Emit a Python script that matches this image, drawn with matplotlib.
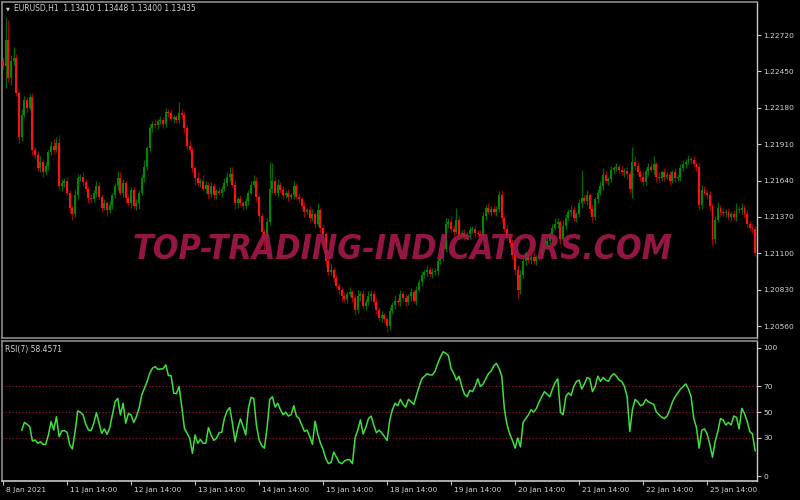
import numpy as np
import matplotlib
matplotlib.use("Agg")
import matplotlib.pyplot as plt
from matplotlib.transforms import ScaledTranslation

# EURUSD H1 candles, prices in pips above 1.2000; open of each bar = previous close
first_open_pips = 253
close_pips = [
    249, 268, 240, 253, 255, 229, 196, 213, 224, 218, 226, 187, 183, 173, 178, 170, 175, 185, 190, 187,
    192, 160, 162, 164, 155, 144, 139, 153, 166, 167, 163, 158, 151, 150, 155, 160, 152, 144, 147, 142,
    146, 153, 160, 166, 155, 162, 151, 147, 157, 145, 147, 155, 166, 174, 188, 203, 206, 205, 208, 209,
    206, 215, 214, 210, 211, 209, 214, 213, 203, 190, 187, 173, 166, 162, 164, 158, 161, 154, 160, 153,
    156, 155, 158, 162, 167, 169, 161, 147, 150, 147, 145, 149, 155, 161, 164, 152, 138, 126, 121, 133,
    158, 164, 155, 161, 157, 153, 155, 152, 153, 160, 152, 150, 145, 141, 142, 136, 139, 132, 142, 129,
    124, 104, 96, 98, 92, 86, 83, 78, 76, 80, 81, 77, 68, 78, 80, 71, 74, 78, 80, 74,
    68, 62, 64, 61, 56, 67, 72, 75, 74, 80, 77, 74, 78, 81, 75, 83, 89, 94, 96, 98,
    95, 96, 97, 104, 107, 113, 132, 133, 128, 126, 135, 123, 125, 123, 124, 127, 128, 125, 124, 123,
    138, 144, 141, 143, 141, 143, 153, 136, 128, 123, 118, 109, 98, 83, 94, 104, 110, 105, 107, 104,
    107, 109, 114, 116, 119, 124, 129, 132, 133, 121, 130, 136, 141, 142, 136, 139, 147, 151, 149, 153,
    143, 137, 150, 155, 160, 168, 164, 165, 172, 173, 174, 172, 170, 171, 169, 158, 178, 175, 170, 167,
    163, 171, 174, 172, 176, 167, 166, 170, 167, 168, 164, 170, 166, 167, 173, 176, 178, 180, 179, 176,
    174, 146, 157, 155, 153, 145, 121, 135, 144, 141, 140, 141, 137, 139, 137, 143, 142, 144, 139, 132,
    129, 128, 110,
]
up_wick = [
    3, 17, 15, 4, 8, 3, 2, 4, 3, 2, 2, 3, 2, 3, 4, 2, 3, 2, 3, 5,
    4, 6, 3, 2, 3, 2, 2, 5, 3, 2, 3, 2, 2, 3, 2, 4, 3, 2, 3, 2,
    3, 2, 2, 5, 4, 3, 2, 3, 2, 2, 3, 2, 3, 5, 2, 3, 2, 4, 2, 3,
    2, 3, 2, 3, 2, 2, 8, 3, 2, 2, 3, 2, 2, 4, 2, 4, 3, 2, 3, 2,
    2, 3, 2, 4, 3, 5, 5, 3, 2, 3, 2, 3, 2, 3, 4, 3, 2, 2, 2, 3,
    20, 13, 3, 4, 2, 3, 2, 3, 2, 4, 2, 3, 2, 3, 2, 3, 4, 2, 5, 2,
    3, 2, 3, 4, 2, 3, 2, 2, 3, 2, 4, 2, 3, 5, 2, 3, 2, 4, 3, 2,
    3, 2, 3, 2, 2, 3, 2, 4, 2, 3, 2, 3, 2, 3, 2, 3, 2, 3, 2, 3,
    2, 3, 2, 3, 2, 3, 4, 3, 5, 3, 9, 3, 2, 3, 2, 3, 2, 3, 2, 3,
    3, 2, 3, 2, 3, 2, 3, 4, 2, 3, 2, 3, 2, 3, 4, 3, 2, 3, 2, 4,
    2, 3, 2, 4, 3, 2, 3, 4, 3, 2, 5, 3, 2, 4, 3, 2, 3, 21, 3, 4,
    2, 3, 2, 3, 4, 5, 3, 2, 3, 2, 3, 2, 3, 2, 3, 2, 11, 4, 3, 2,
    3, 2, 3, 4, 6, 2, 3, 2, 3, 2, 3, 2, 3, 2, 3, 3, 2, 3, 2, 3,
    2, 3, 4, 3, 2, 3, 2, 3, 4, 2, 3, 2, 3, 2, 3, 4, 2, 3, 2, 3,
    2, 3, 2,
]
down_wick = [
    3, 16, 3, 5, 3, 2, 4, 3, 2, 3, 2, 4, 3, 2, 3, 3, 2, 3, 2, 3,
    2, 3, 4, 3, 2, 4, 4, 2, 3, 2, 3, 2, 4, 3, 2, 3, 2, 3, 2, 4,
    2, 3, 2, 3, 2, 3, 4, 2, 3, 2, 3, 4, 2, 3, 2, 2, 3, 2, 3, 2,
    3, 2, 3, 2, 3, 2, 2, 3, 4, 3, 2, 3, 5, 2, 3, 2, 3, 4, 2, 3,
    3, 2, 3, 2, 2, 3, 2, 4, 3, 2, 3, 2, 3, 2, 2, 3, 5, 3, 9, 3,
    2, 3, 2, 3, 2, 3, 2, 3, 2, 3, 2, 3, 2, 4, 2, 3, 2, 3, 2, 3,
    3, 4, 3, 2, 3, 2, 4, 3, 2, 3, 2, 3, 4, 2, 3, 2, 3, 2, 3, 2,
    3, 2, 3, 2, 4, 3, 2, 3, 2, 3, 2, 3, 2, 3, 2, 3, 2, 3, 2, 3,
    2, 3, 2, 3, 2, 3, 2, 3, 2, 3, 2, 3, 2, 3, 2, 3, 2, 3, 2, 3,
    2, 3, 2, 3, 2, 3, 2, 3, 2, 3, 3, 3, 4, 6, 3, 2, 3, 2, 3, 2,
    3, 2, 3, 2, 3, 2, 3, 2, 3, 4, 2, 3, 2, 3, 2, 3, 2, 3, 2, 3,
    3, 4, 2, 3, 2, 3, 2, 3, 2, 3, 2, 3, 2, 3, 4, 3, 7, 3, 2, 3,
    3, 2, 3, 2, 3, 4, 3, 2, 3, 2, 3, 2, 3, 2, 3, 2, 3, 2, 3, 2,
    3, 4, 3, 2, 3, 3, 5, 3, 2, 3, 2, 3, 2, 3, 2, 3, 2, 3, 2, 3,
    2, 3, 2,
]

# RSI(7), first value on bar 7
rsi_start = 7
rsi_vals = [
    36, 42, 40.6, 38.8, 27.6, 28.4, 25.8, 27, 25, 25, 32.3, 42.7, 36.2, 46.5, 31, 35.4, 35.6, 34.4, 24.5, 21.4,
    34.9, 51, 50, 47.9, 40.6, 36.2, 35.6, 41.4, 49.6, 41.4, 33.6, 37, 32.8, 38, 47.9, 58.2, 60.8, 47.9, 57, 41.4,
    49, 47.9, 42, 46.5, 53, 63.4, 68.6, 73.8, 80.3, 84.2, 85.5, 83.4, 83.7, 83.7, 86.8, 78.5, 78.5, 64.7, 64.5, 70,
    54.4, 37.5, 33.6, 29.7, 18, 32.3, 25.8, 28.9, 25.8, 25.8, 38, 32.3, 28.1, 29.7, 34.1, 34.4, 45.3, 51, 53.6, 41.4,
    27.1, 37.5, 44.8, 38.8, 32.3, 53, 61.6, 60.8, 40, 28.4, 24, 22, 38, 60, 62, 54, 57, 52, 48, 50,
    47, 48, 55, 47, 45, 40, 35, 36, 31, 25, 43, 33, 26, 21, 14, 10, 11, 19, 15, 11,
    10, 12, 13, 13, 10, 30, 36, 44, 33, 38, 45, 47, 40, 34, 36, 34, 31, 28, 44, 52,
    57, 55, 60, 56, 54, 60, 58, 56, 63, 70, 76, 78, 80, 79, 79, 82, 88, 93, 97, 96,
    94, 84, 80, 75, 78, 70, 64, 62, 67, 66, 70, 76, 70, 72, 76, 80, 82, 86, 88, 84,
    78, 52, 40, 33, 28, 22, 30, 23, 42, 45, 48, 52, 50, 53, 58, 62, 66, 64, 62, 68,
    73, 76, 50, 48, 62, 65, 63, 70, 74, 75, 68, 72, 77, 76, 66, 70, 78, 74, 77, 75,
    74, 78, 80, 78, 75, 74, 70, 62, 35, 52, 60, 58, 55, 56, 60, 58, 57, 56, 50, 48,
    46, 45, 47, 52, 58, 62, 65, 68, 70, 72, 68, 62, 45, 38, 22, 36, 37, 33, 25, 15,
    27, 35, 45, 44, 40, 42, 40, 47, 46, 37, 53, 49, 43, 35, 33, 20,
]

price_ticks = [1.20560, 1.20830, 1.21100, 1.21370, 1.21640, 1.21910, 1.22180, 1.22450, 1.22720]
date_pos = [0, 24, 48, 72, 96, 120, 144, 168, 192, 216, 240, 264]
date_labels = ["8 Jan 2021", "11 Jan 14:00", "12 Jan 14:00", "13 Jan 14:00", "14 Jan 14:00",
               "15 Jan 14:00", "18 Jan 14:00", "19 Jan 14:00", "20 Jan 14:00", "21 Jan 14:00",
               "22 Jan 14:00", "25 Jan 14:00"]
rsi_levels = [30, 50, 70]
rsi_ticks = [0, 30, 50, 70, 100]

base = 1.2
close = base + np.array(close_pips) / 10000
opens = np.concatenate([[base + first_open_pips / 10000], close[:-1]])
high = np.maximum(opens, close) + np.array(up_wick) / 10000
low = np.minimum(opens, close) - np.array(down_wick) / 10000
x = np.arange(len(close))
bull = close >= opens

fg = '#d4d4d4'
frame = '#8c8c8c'

fig = plt.figure(figsize=(8, 5), dpi=100, facecolor='black')
ax1 = fig.add_axes([2 / 800, 162 / 500, 755 / 800, 336 / 500])
ax2 = fig.add_axes([2 / 800, 19.3 / 500, 755 / 800, 139.7 / 500])

for ax in (ax1, ax2):
    ax.set_facecolor('black')
    for side in ('left', 'top', 'bottom'):
        ax.spines[side].set_color(frame)
        ax.spines[side].set_linewidth(1.2)
    ax.spines['right'].set_color('#c8c8c8')
    ax.spines['right'].set_linewidth(1.0)
    ax.yaxis.tick_right()
    ax.tick_params(axis='y', colors='#c8c8c8', labelcolor=fg, length=3, width=0.8,
                   pad=1.5, labelsize=5.4)
    ax.set_xlim(-0.4, 282.7)

ax2.spines['bottom'].set_color('#c8c8c8')

# candles
wick_col = np.where(bull, '#006a00', '#a00000')
body_col = np.where(bull, '#008800', '#ff1010')
ax1.vlines(x, low, high, colors=wick_col, lw=0.9, zorder=2)
body_h = np.where(np.abs(close - opens) < 0.00004, 0.00004, close - opens)
ax1.bar(x, body_h, bottom=opens, width=0.72, color=body_col, linewidth=0, zorder=3)
ax1.set_ylim(1.20472, 1.22965)
ax1.set_yticks(price_ticks)
ax1.set_yticklabels([f'{p:.5f}' for p in price_ticks])
ax1.set_xticks([])

# RSI
for lv in rsi_levels:
    ax2.axhline(lv, color='#a01838', ls=(0, (1, 2)), lw=0.8, zorder=1)
ax2.plot(x[rsi_start:], rsi_vals, color='#3ee03e', lw=1.1, zorder=3)
ax2.set_ylim(-3.3, 105.4)
ax2.set_yticks(rsi_ticks)
ax2.set_xticks(date_pos)
ax2.set_xticklabels(date_labels, ha='left')
ax2.tick_params(axis='x', colors='#c8c8c8', labelcolor=fg, length=3, width=0.8,
                pad=1.5, labelsize=5.4)
shift = ScaledTranslation(3 / 100, 0, fig.dpi_scale_trans)
for lbl in ax2.get_xticklabels():
    lbl.set_transform(lbl.get_transform() + shift)

# texts
fig.text(6 / 800, 1 - 8.5 / 500, '\u25bc', color=fg, fontsize=3.6, va='center')
fig.text(14 / 800, 1 - 8.5 / 500, 'EURUSD,H1  1.13410 1.13448 1.13400 1.13435',
         color=fg, fontsize=5.5, va='center')
fig.text(5 / 800, 1 - 349.5 / 500, 'RSI(7) 58.4571', color=fg, fontsize=5.5, va='center')

wm = fig.text(402 / 800, 1 - 249.5 / 500, 'TOP-TRADING-INDICATORS.COM', ha='center',
              va='center', fontsize=22, fontweight='bold', style='italic',
              fontstretch='condensed', color='#a3184c', alpha=0.92, zorder=5)
renderer = fig.canvas.get_renderer()
w = wm.get_window_extent(renderer).width
wm.set_fontsize(22 * 540 / w)

fig.savefig('out.png', dpi=100, facecolor='black')
